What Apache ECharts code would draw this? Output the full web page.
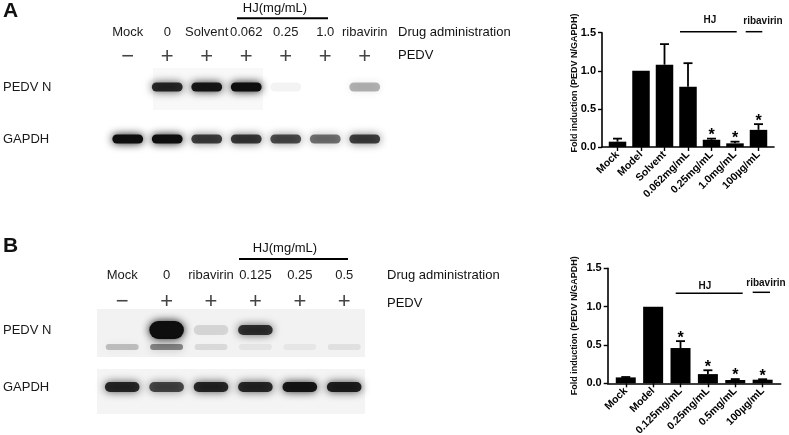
<!DOCTYPE html>
<html><head><meta charset="utf-8">
<script src="https://cdn.jsdelivr.net/npm/echarts@6/dist/echarts.min.js"></script>
<style>html,body{margin:0;padding:0;background:#fff}#c{width:789px;height:435px}</style>
</head><body><div id="c"></div>
<script>
// ---------- Panel A: western blot ----------
const lanesA = ['Mock', '0', 'Solvent', '0.062', '0.25', '1.0', 'ribavirin'];
const pedvSignsA = ['\u2212', '+', '+', '+', '+', '+', '+'];
const blotRows = ['PEDV N', 'GAPDH'];
const pedvNBandA = [0, 0.85, 0.95, 1.0, 0.05, 0, 0.3];
const gapdhBandA = [1.0, 1.0, 0.75, 0.78, 0.7, 0.55, 0.75];
// ---------- Panel B: western blot ----------
const lanesB = ['Mock', '0', 'ribavirin', '0.125', '0.25', '0.5'];
const pedvSignsB = ['\u2212', '+', '+', '+', '+', '+'];
const pedvNBandB = [0, 1.8, 0.12, 0.8, 0, 0];
const pedvNLowerBandB = [0.22, 0.45, 0.1, 0.06, 0.05, 0.08];
const gapdhBandB = [0.85, 0.7, 0.85, 0.85, 0.95, 0.9];
// ---------- Panel A: quantification ----------
const catsA = ['Mock', 'Model', 'Solvent', '0.062mg/mL', '0.25mg/mL', '1.0mg/mL', '100\u00b5g/mL'];
const meanA = [0.07, 1.0, 1.08, 0.79, 0.095, 0.048, 0.225];
const errA = [0.04, 0, 0.27, 0.31, 0.015, 0.022, 0.075];
const sigA = [0, 0, 0, 0, 1, 1, 1];
// ---------- Panel B: quantification ----------
const catsB = ['Mock', 'Model', '0.125mg/mL', '0.25mg/mL', '0.5mg/mL', '100\u00b5g/mL'];
const meanB = [0.077, 1.0, 0.46, 0.12, 0.043, 0.047];
const errB = [0.005, 0, 0.09, 0.05, 0.012, 0.006];
const sigB = [0, 0, 1, 1, 1, 1];
const yTitle = 'Fold induction (PEDV N/GAPDH)';

const FONT = "'Liberation Sans', Arial, Helvetica, sans-serif";
const LEAD = 0.66; // leading gap (in category units) between y axis and first bar

function blotData(rows) {
  const out = [];
  rows.forEach((arr, r) => arr.forEach((v, i) => out.push([i, r, v, 0])));
  return out;
}
const blotA = blotData([pedvNBandA, gapdhBandA]);
const blotB = [];
pedvNBandB.forEach((v, i) => blotB.push([i, 0, v, pedvNLowerBandB[i]]));
gapdhBandB.forEach((v, i) => blotB.push([i, 1, v, 0]));

function band(cx, cy, w, intensity, baseH) {
  const a = Math.min(1, intensity);
  const h = baseH * Math.max(1, intensity);
  const col = 'rgba(14,14,14,' + a.toFixed(3) + ')';
  return {
    type: 'rect',
    shape: { x: cx - w / 2, y: cy - h / 2, width: w, height: h, r: h / 2 },
    style: { fill: col, shadowBlur: 9, shadowColor: col }
  };
}
function blotRender(baseH) {
  return function (params, api) {
    const lane = api.value(0), row = api.value(1), I = api.value(2), low = api.value(3);
    const c = api.coord([lane, row]);
    const w = api.size([1, 0])[0] * 0.78;
    const children = [];
    if (I > 0.001) children.push(band(c[0], c[1], w, I, baseH));
    if (low > 0.001) children.push(band(c[0], c[1] + 17, w * 0.95, low, baseH * 0.6));
    return { type: 'group', children };
  };
}

function barData(mean) { return mean.map((v, i) => [LEAD + i, v]); }
function errData(mean, err, sig) { return mean.map((v, i) => [LEAD + i, v, err[i], sig[i]]); }
function errRender(params, api) {
  const x = api.value(0), m = api.value(1), e = api.value(2), s = api.value(3);
  const p0 = api.coord([x, m]);
  const p1 = api.coord([x, m + e]);
  const children = [];
  if (e > 0) {
    children.push({ type: 'line', shape: { x1: p0[0], y1: p0[1], x2: p1[0], y2: p1[1] }, style: { stroke: '#000', lineWidth: 1.8 } });
    children.push({ type: 'line', shape: { x1: p1[0] - 4.5, y1: p1[1], x2: p1[0] + 4.5, y2: p1[1] }, style: { stroke: '#000', lineWidth: 1.8 } });
  }
  if (s) {
    children.push({ type: 'text', x: p1[0], y: p1[1] - 3, style: { text: '*', font: 'bold 16px ' + FONT, fill: '#000', align: 'center', verticalAlign: 'middle', textAlign: 'center', textVerticalAlign: 'middle' } });
  }
  return { type: 'group', children };
}

function catValueAxis(grid, cats) {
  const ticks = cats.map((c, i) => LEAD + i);
  return {
    type: 'value', gridIndex: grid, min: 0, max: cats.length - 1 + 2 * LEAD,
    axisLine: { show: true, lineStyle: { color: '#000', width: 1.6 } },
    axisTick: { show: true, customValues: ticks, length: 4, lineStyle: { color: '#000', width: 1.4 } },
    axisLabel: { customValues: ticks, rotate: 45, margin: 6, color: '#000', fontWeight: 'bold', fontSize: 10.5, fontFamily: FONT,
      formatter: v => cats[Math.round(v - LEAD)] },
    splitLine: { show: false }
  };
}
function fracAxis(grid) {
  return {
    type: 'value', gridIndex: grid, min: 0, max: 1.5, interval: 0.5,
    axisLine: { show: true, lineStyle: { color: '#000', width: 1.6 } },
    axisTick: { show: true, length: 4, lineStyle: { color: '#000', width: 1.4 } },
    axisLabel: { margin: 6, color: '#000', fontWeight: 'bold', fontSize: 11, fontFamily: FONT, formatter: v => v.toFixed(1) },
    splitLine: { show: false }
  };
}
function laneAxis(grid, data, margin, size, color) {
  return {
    type: 'category', gridIndex: grid, position: 'top', data: data,
    axisLine: { show: false }, axisTick: { show: false }, splitLine: { show: false },
    axisLabel: { interval: 0, margin: margin, verticalAlign: 'middle', color: color, fontSize: size, fontFamily: FONT }
  };
}
function rowAxis(grid, margin) {
  return {
    type: 'category', gridIndex: grid, inverse: true, data: blotRows,
    axisLine: { show: false }, axisTick: { show: false }, splitLine: { show: false },
    axisLabel: { margin: margin, align: 'left', color: '#1a1a1a', fontSize: 13, fontFamily: FONT }
  };
}

function txt(x, y, text, font, align, va, rot) {
  return { type: 'text', x: x, y: y, rotation: rot || 0, z: 10,
    style: { text: text, font: font, fill: '#111', align: align, verticalAlign: va, textAlign: align, textVerticalAlign: va } };
}
function seg(x1, x2, y, w) {
  return { type: 'line', z: 10, shape: { x1: x1, y1: y, x2: x2, y2: y }, style: { stroke: '#000', lineWidth: w } };
}
function bg(x, y, w, h, c) {
  return { type: 'rect', z: 0, shape: { x: x, y: y, width: w, height: h }, style: { fill: c } };
}

const option = {
  backgroundColor: '#fff',
  animation: false,
  grid: [
    { left: 108, top: 61, width: 276.5, height: 104, outerBoundsMode: 'none' },
    { left: 100, top: 301.5, width: 266.4, height: 114, outerBoundsMode: 'none' },
    { left: 602, top: 32.7, width: 172, height: 114.3, outerBoundsMode: 'none' },
    { left: 607.7, top: 268.3, width: 173, height: 115, outerBoundsMode: 'none' }
  ],
  xAxis: [
    laneAxis(0, lanesA, 29, 13, '#1a1a1a'),
    laneAxis(0, pedvSignsA, 4, 22, '#444'),
    laneAxis(1, lanesB, 26.5, 13, '#1a1a1a'),
    laneAxis(1, pedvSignsB, 0, 22, '#444'),
    catValueAxis(2, catsA),
    catValueAxis(3, catsB)
  ],
  yAxis: [
    rowAxis(0, 105),
    rowAxis(1, 97),
    fracAxis(2),
    fracAxis(3)
  ],
  graphic: [
    bg(153, 68, 110, 42, '#f8f8f8'),
    bg(97, 309, 268, 48, '#f2f2f2'),
    bg(97, 369, 268, 45, '#f4f4f4'),
    txt(3, 1, 'A', 'bold 21px ' + FONT, 'left', 'top'),
    txt(3, 236, 'B', 'bold 21px ' + FONT, 'left', 'top'),
    txt(275, 8, 'HJ(mg/mL)', '13px ' + FONT, 'center', 'middle'),
    seg(237, 328, 18.3, 2),
    txt(398, 32, 'Drug administration', '13px ' + FONT, 'left', 'middle'),
    txt(398, 55, 'PEDV', '13px ' + FONT, 'left', 'middle'),
    txt(285, 248, 'HJ(mg/mL)', '13px ' + FONT, 'center', 'middle'),
    seg(239, 348, 259, 2),
    txt(387, 275, 'Drug administration', '13px ' + FONT, 'left', 'middle'),
    txt(387, 303, 'PEDV', '13px ' + FONT, 'left', 'middle'),
    txt(710, 20, 'HJ', 'bold 10px ' + FONT, 'center', 'middle'),
    seg(680, 736.7, 31.7, 1.5),
    txt(763, 21, 'ribavirin', 'bold 10px ' + FONT, 'center', 'middle'),
    seg(745.7, 762.3, 31.7, 1.5),
    txt(705, 286.7, 'HJ', 'bold 10px ' + FONT, 'center', 'middle'),
    seg(675.7, 742.7, 293.3, 1.5),
    txt(766, 283.5, 'ribavirin', 'bold 10px ' + FONT, 'center', 'middle'),
    seg(752.7, 770, 292.3, 1.5),
    txt(575, 83, yTitle, 'bold 9px ' + FONT, 'center', 'middle', Math.PI / 2),
    txt(575, 325.8, yTitle, 'bold 9px ' + FONT, 'center', 'middle', Math.PI / 2)
  ],
  series: [
    { type: 'custom', xAxisIndex: 0, yAxisIndex: 0, data: blotA, renderItem: blotRender(9), z: 3 },
    { type: 'custom', xAxisIndex: 2, yAxisIndex: 1, data: blotB, renderItem: blotRender(10), z: 3 },
    { type: 'bar', xAxisIndex: 4, yAxisIndex: 2, data: barData(meanA), barWidth: 17.5, itemStyle: { color: '#000' } },
    { type: 'custom', xAxisIndex: 4, yAxisIndex: 2, data: errData(meanA, errA, sigA), renderItem: errRender, z: 4 },
    { type: 'bar', xAxisIndex: 5, yAxisIndex: 3, data: barData(meanB), barWidth: 20, itemStyle: { color: '#000' } },
    { type: 'custom', xAxisIndex: 5, yAxisIndex: 3, data: errData(meanB, errB, sigB), renderItem: errRender, z: 4 }
  ]
};
const chart = echarts.init(document.getElementById('c'), null, { renderer: 'canvas' });
chart.setOption(option);
</script></body></html>
